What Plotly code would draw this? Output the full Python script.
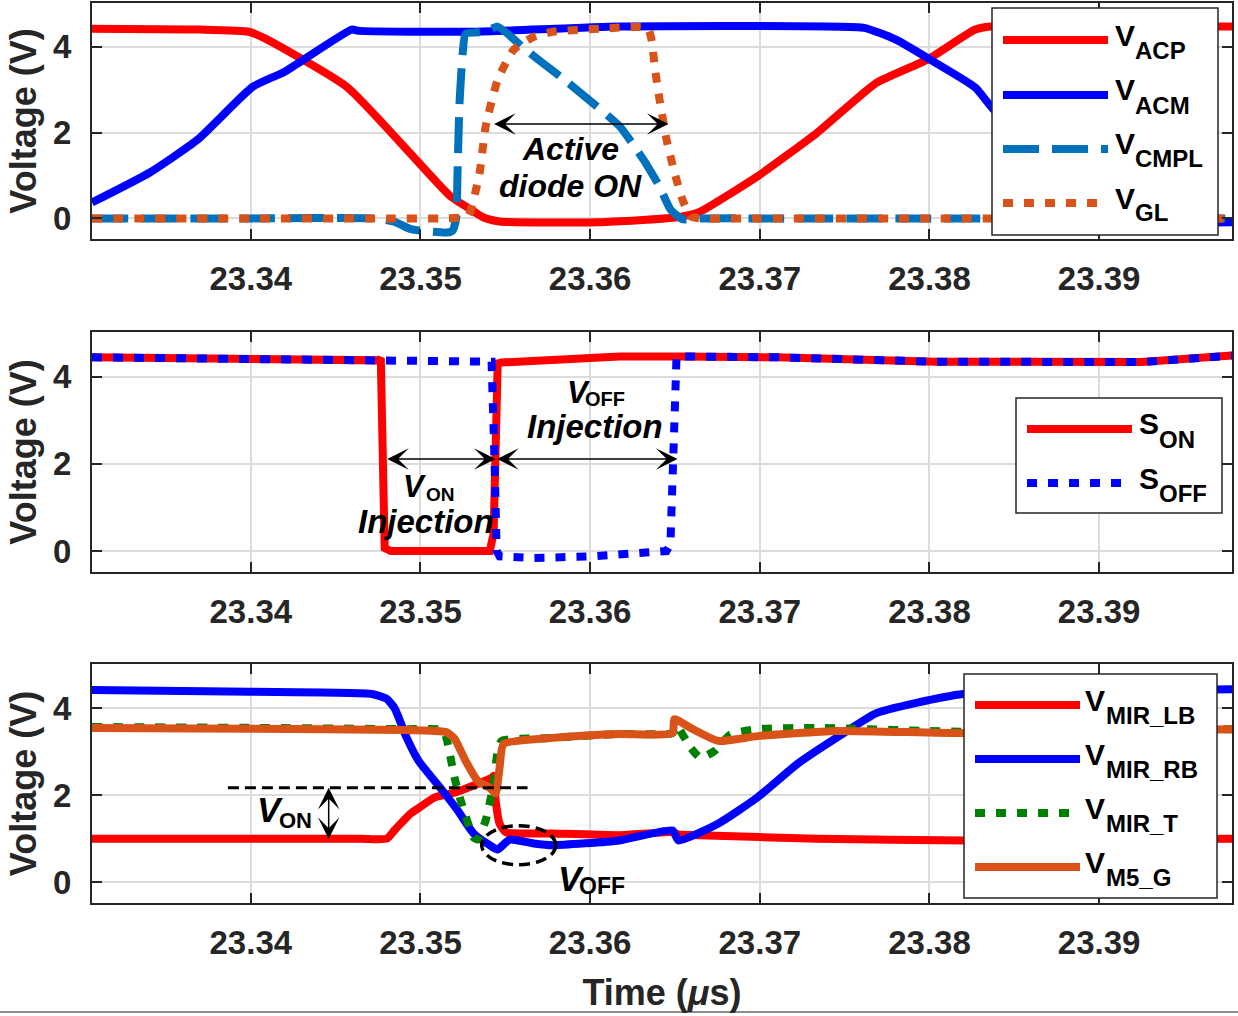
import plotly.graph_objects as go

# ---------------- axes: time base (µs) and voltage ticks ----------------
time_range = [23.33064, 23.39783]
time_ticks = [23.34, 23.35, 23.36, 23.37, 23.38, 23.39]
time_tick_labels = ["23.34", "23.35", "23.36", "23.37", "23.38", "23.39"]
volt_range = [-0.48, 5.02]
volt_ticks = [0, 2, 4]
volt_tick_labels = ["0", "2", "4"]

# ---------------- panel 1: AC inputs, comparator output, gate drive ----------------
t_acp = [23.33064, 23.3370, 23.33988, 23.3408, 23.34571, 23.35178, 23.3530, 23.35372,
         23.35466, 23.36055, 23.3650, 23.36638, 23.36986, 23.37339, 23.37687, 23.37987,
         23.38270, 23.38364, 23.3900, 23.39783]
v_acp = [4.42, 4.40, 4.35, 4.20, 3.05, 0.51, 0.20, 0.02,
         -0.07, -0.09, 0.02, 0.14, 0.98, 2.00, 3.16, 3.70,
         4.40, 4.47, 4.47, 4.47]

t_acm = [23.33064, 23.33405, 23.33688, 23.34012, 23.34200, 23.34595, 23.3464, 23.35313,
         23.36173, 23.37616, 23.3770, 23.37805, 23.38034, 23.38270, 23.38364, 23.3888,
         23.3900, 23.3910, 23.39783]
v_acm = [0.37, 1.07, 1.84, 3.07, 3.42, 4.40, 4.37, 4.35,
         4.47, 4.44, 4.33, 4.16, 3.63, 3.05, 2.60, 0.51,
         0.15, -0.06, -0.09]

t_cmpl = [23.33064, 23.3400, 23.3472, 23.34848, 23.34942, 23.35154, 23.3519, 23.3521,
          23.35219, 23.35231, 23.3525, 23.35266, 23.35384, 23.35455, 23.35620, 23.35826,
          23.35991, 23.36173, 23.36314, 23.36409, 23.36473, 23.36544, 23.3665, 23.3700,
          23.3800, 23.39783]
v_cmpl = [0.0, 0.0, 0.0, -0.08, -0.25, -0.33, -0.28, 0.0,
          1.2, 2.77, 3.9, 4.3, 4.35, 4.47, 3.93, 3.3,
          2.77, 2.15, 1.37, 0.74, 0.21, -0.02, 0.0, 0.0,
          0.0, 0.0]

t_gl = [23.33064, 23.3400, 23.3480, 23.3515, 23.3528, 23.35313, 23.35349, 23.35384,
        23.35455, 23.35549, 23.35667, 23.35779, 23.36055, 23.36338, 23.3636, 23.36385,
        23.36409, 23.36450, 23.36497, 23.36544, 23.36591, 23.3665, 23.3700, 23.3800,
        23.39783]
v_gl = [0.0, 0.0, 0.0, 0.0, 0.05, 0.44, 1.07, 2.14,
        3.23, 3.93, 4.23, 4.35, 4.42, 4.44, 4.2, 3.4,
        2.77, 1.84, 1.07, 0.44, 0.05, 0.0, 0.0, 0.0,
        0.0]

# ---------------- panel 2: injection switch controls ----------------
t_son = [23.33064, 23.34754, 23.34766, 23.34777, 23.34789, 23.34825, 23.35408, 23.35431,
         23.35455, 23.35478, 23.36173, 23.36521, 23.37104, 23.38034, 23.39083, 23.3925,
         23.39783]
v_son = [4.44, 4.37, 4.42, 2.9, 0.07, 0.0, 0.0, 0.4,
         4.3, 4.32, 4.46, 4.46, 4.44, 4.34, 4.30, 4.33,
         4.48]

t_soff = [23.33064, 23.34754, 23.35419, 23.35437, 23.35449, 23.35466, 23.35667, 23.36014,
          23.36173, 23.36450, 23.36473, 23.36497, 23.36509, 23.36521, 23.37104, 23.38034,
          23.39083, 23.3925, 23.39783]
v_soff = [4.44, 4.37, 4.34, 2.0, 0.0, -0.12, -0.16, -0.12,
          -0.08, 0.0, 0.15, 4.14, 4.44, 4.46, 4.44, 4.34,
          4.30, 4.33, 4.48]

# ---------------- panel 3: current-mirror nodes ----------------
t_mir_lb = [23.33064, 23.3400, 23.3465, 23.34801, 23.34848, 23.34942, 23.34995, 23.35084,
            23.35201, 23.35419, 23.35431, 23.35443, 23.35466, 23.35502, 23.35779, 23.36173,
            23.36485, 23.36521, 23.36638, 23.37339, 23.38199, 23.39783]
v_mir_lb = [1.0, 1.0, 1.0, 1.0, 1.2, 1.58, 1.72, 1.95,
            2.06, 2.4, 2.45, 1.88, 1.35, 1.15, 1.12, 1.08,
            1.15, 1.10, 1.08, 1.0, 0.96, 1.0]

t_mir_rb = [23.33064, 23.3400, 23.34713, 23.3480, 23.34848, 23.34919, 23.34989, 23.35131,
            23.35219, 23.35313, 23.35408, 23.35455, 23.35525, 23.35667, 23.35779, 23.36173,
            23.36485, 23.36521, 23.36756, 23.36986, 23.37221, 23.37451, 23.37687, 23.37916,
            23.38199, 23.39783]
v_mir_rb = [4.42, 4.38, 4.33, 4.22, 4.0, 3.32, 2.79, 2.1,
            1.65, 1.12, 0.85, 0.75, 0.98, 0.89, 0.85, 0.96,
            1.19, 0.96, 1.35, 1.95, 2.72, 3.32, 3.89, 4.12,
            4.33, 4.44]

t_mir_t = [23.33064, 23.3400, 23.3490, 23.35131, 23.35154, 23.35201, 23.35243, 23.35313,
           23.35337, 23.35384, 23.35431, 23.35455, 23.35478, 23.35779, 23.36173, 23.36485,
           23.36509, 23.36591, 23.36650, 23.36733, 23.36827, 23.36986, 23.37339, 23.38199,
           23.39783]
v_mir_t = [3.57, 3.55, 3.52, 3.5, 3.3, 2.4, 1.8, 1.03,
           0.98, 1.42, 2.27, 3.02, 3.25, 3.32, 3.41, 3.43,
           3.6, 3.1, 2.86, 3.02, 3.4, 3.52, 3.55, 3.46,
           3.52]

t_m5_g = [23.33064, 23.3400, 23.3490, 23.35084, 23.35154, 23.35201, 23.35266, 23.35337,
          23.35408, 23.35443, 23.35466, 23.35490, 23.35779, 23.36173, 23.36485, 23.36497,
          23.36591, 23.36756, 23.36986, 23.37451, 23.38199, 23.39783]
v_m5_g = [3.55, 3.53, 3.50, 3.48, 3.45, 3.3, 2.79, 2.33,
          2.17, 2.04, 2.63, 3.18, 3.32, 3.41, 3.43, 3.75,
          3.55, 3.25, 3.36, 3.48, 3.43, 3.52]

# legend labels (main letter + subscript)
top_labels = [("V", "ACP"), ("V", "ACM"), ("V", "CMPL"), ("V", "GL")]
mid_labels = [("S", "ON"), ("S", "OFF")]
bot_labels = [("V", "MIR_LB"), ("V", "MIR_RB"), ("V", "MIR_T"), ("V", "M5_G")]

# ---------------- styling ----------------
RED = "#FF0000"
BLUE = "#0000FF"
MBLUE = "#0072BD"
ORANGE = "#D95319"
GREEN = "#008000"
INK = "#262626"
FONT = "Liberation Sans, Arial, sans-serif"
DASH = "36px,13px"
DOT = "10px,11px"
LW = 8

W, H = 1238, 1016


def px(x):
    return x / W


def py(y):
    return 1 - y / H


fig = go.Figure()

# (time, volts, colour, dash, x-axis, y-axis, smooth?)
series = [
    (t_acp, v_acp, RED, "solid", "x", "y", True),
    (t_acm, v_acm, BLUE, "solid", "x", "y", True),
    (t_cmpl, v_cmpl, MBLUE, DASH, "x", "y", True),
    (t_gl, v_gl, ORANGE, DOT, "x", "y", True),
    (t_son, v_son, RED, "solid", "x2", "y2", False),
    (t_soff, v_soff, BLUE, DOT, "x2", "y2", False),
    (t_mir_lb, v_mir_lb, RED, "solid", "x3", "y3", True),
    (t_mir_rb, v_mir_rb, BLUE, "solid", "x3", "y3", True),
    (t_mir_t, v_mir_t, GREEN, DOT, "x3", "y3", True),
    (t_m5_g, v_m5_g, ORANGE, "solid", "x3", "y3", True),
]
for t, v, color, dash, xa, ya, smooth in series:
    line = dict(color=color, width=LW, dash=dash)
    if smooth:
        line.update(shape="spline", smoothing=0.5)
    fig.add_trace(go.Scatter(
        x=t, y=v, mode="lines", xaxis=xa, yaxis=ya, showlegend=False,
        line=line, hoverinfo="skip"))

# panel layout (pixel rows of each plot box)
x_dom = [px(92), px(1232)]
rows = [(3, 239), (332, 572), (664, 903)]

axis_common = dict(
    showline=True, linecolor=INK, linewidth=2, mirror="ticks",
    ticks="inside", ticklen=10, tickwidth=2, tickcolor=INK,
    showgrid=True, gridcolor="#DCDCDC", gridwidth=2, zeroline=False,
    tickfont=dict(family=FONT, size=33, color=INK, weight="bold"),
)

layout = dict(
    width=W, height=H, margin=dict(l=0, r=0, t=0, b=0),
    paper_bgcolor="white", plot_bgcolor="white", showlegend=False,
)
for i, (top, bot) in enumerate(rows):
    sfx = "" if i == 0 else str(i + 1)
    layout["xaxis" + sfx] = dict(
        axis_common, domain=x_dom, range=time_range, anchor="y" + sfx,
        tickvals=time_ticks, ticktext=time_tick_labels, ticklabelstandoff=9)
    layout["yaxis" + sfx] = dict(
        axis_common, domain=[py(bot), py(top)], range=volt_range, anchor="x" + sfx,
        tickvals=volt_ticks, ticktext=volt_tick_labels, ticklabelstandoff=12,
        title=dict(text="Voltage (V)", standoff=5,
                   font=dict(family=FONT, size=36, color=INK, weight="bold")))
layout["xaxis3"]["title"] = dict(
    text="Time (<i>μ</i>s)", standoff=20,
    font=dict(family=FONT, size=36, color=INK, weight="bold"))
fig.update_layout(**layout)

shapes = []
annotations = []


def text_at(x, y, s, size, italic=False, xanchor="left"):
    annotations.append(dict(
        xref="paper", yref="paper", x=px(x), y=py(y), text=s, showarrow=False,
        xanchor=xanchor, yanchor="middle",
        font=dict(family=FONT, size=size, color="black", weight="bold",
                  style="italic" if italic else "normal")))


def add_legend(box, sx0, sx1, text_x, sub_dx, entries, labels):
    x0, y0, x1, y1 = box
    shapes.append(dict(type="rect", xref="paper", yref="paper",
                       x0=px(x0), x1=px(x1), y0=py(y1), y1=py(y0),
                       line=dict(color=INK, width=1.5), fillcolor="white", layer="above"))
    for (ys, color, dash), (main, sub) in zip(entries, labels):
        shapes.append(dict(type="line", xref="paper", yref="paper",
                           x0=px(sx0), x1=px(sx1), y0=py(ys), y1=py(ys),
                           line=dict(color=color, width=LW, dash=dash), layer="above"))
        text_at(text_x, ys - 5, main, 30)
        text_at(text_x + sub_dx, ys + 10, sub, 24)


add_legend((992, 8, 1218, 235), 1003, 1108, 1113, 20,
           [(40, RED, "solid"), (95, BLUE, "solid"), (149, MBLUE, DASH), (203, ORANGE, DOT)],
           top_labels)
add_legend((1016, 398, 1222, 513), 1027, 1132, 1137, 20,
           [(429, RED, "solid"), (483, BLUE, DOT)], mid_labels)
add_legend((964, 674, 1217, 898), 975, 1080, 1083, 21,
           [(705, RED, "solid"), (759, BLUE, "solid"), (813, GREEN, DOT), (867, ORANGE, "solid")],
           bot_labels)


def double_arrow(xa, ya, x_start, y_start, x_end, y_end):
    annotations.append(dict(
        xref=xa, yref=ya, axref=xa, ayref=ya, x=x_end, y=y_end, ax=x_start, ay=y_start,
        text="", showarrow=True, arrowside="end+start",
        arrowhead=3, startarrowhead=3, arrowsize=2.4, startarrowsize=2.4,
        arrowwidth=1.5, arrowcolor="black", standoff=0, startstandoff=0))


# panel 1 annotation: active diode conduction window
double_arrow("x", "y", 23.35425, 2.2, 23.36462, 2.2)
text_at(570, 149, "Active", 32, italic=True, xanchor="center")
text_at(570, 186, "diode ON", 32, italic=True, xanchor="center")

# panel 2 annotations: injection windows
double_arrow("x2", "y2", 23.34795, 2.11, 23.35443, 2.11)
double_arrow("x2", "y2", 23.35443, 2.11, 23.36515, 2.11)
text_at(401, 486, "V", 31, italic=True)
text_at(424, 494, "ON", 19)
text_at(426, 521, "Injection", 33, italic=True, xanchor="center")
text_at(565, 392, "V", 31, italic=True)
text_at(583, 399, "OFF", 20)
text_at(595, 427, "Injection", 33, italic=True, xanchor="center")

# panel 3 annotations: threshold level, V_ON step, V_OFF region
shapes.append(dict(type="line", xref="x3", yref="y3", x0=23.33865, x1=23.35631,
                   y0=2.17, y1=2.17, line=dict(color="black", width=3, dash="11px,6px")))
double_arrow("x3", "y3", 23.34459, 0.96, 23.34459, 2.17)
shapes.append(dict(type="circle", xref="x3", yref="y3", x0=23.35361, x1=23.35797,
                   y0=0.40, y1=1.30, line=dict(color="black", width=3.5, dash="11px,6px")))
text_at(255, 809, "V", 35, italic=True)
text_at(277, 820, "ON", 22)
text_at(556, 878, "V", 35, italic=True)
text_at(577, 886, "OFF", 23)

# thin frame line at the bottom of the figure
shapes.append(dict(type="line", xref="paper", yref="paper", x0=0, x1=1,
                   y0=py(1012), y1=py(1012), line=dict(color="#666666", width=1.5)))

fig.update_layout(shapes=shapes, annotations=annotations)
fig.write_html("out.html")
